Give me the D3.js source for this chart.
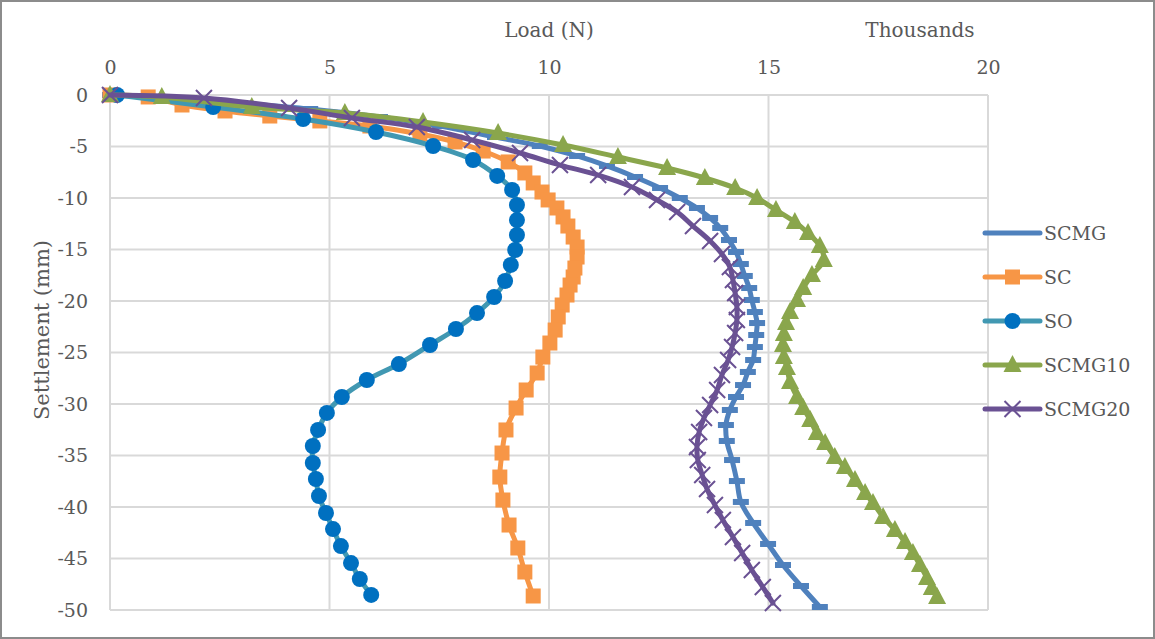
<!DOCTYPE html>
<html>
<head>
<meta charset="utf-8">
<script src="https://cdn.jsdelivr.net/npm/d3@7"></script>
<style>
  body { margin: 0; background: #fff; }
  text { font-family: "DejaVu Serif", "Liberation Serif", serif; fill: #595959; }
</style>
</head>
<body>
<div id="chart"></div>
<script>
const width = 1155;
const height = 639;

// load in thousands of N, settlement in mm
const xTicks = [0, 5, 10, 15, 20];
const yTicks = [0, -5, -10, -15, -20, -25, -30, -35, -40, -45, -50];
const seriesNames = ["SCMG", "SC", "SO", "SCMG10", "SCMG20"];

const scmgLoad = [0, 1.37, 2.96, 4.56, 6.15, 7.52, 8.77, 9.79, 10.64, 11.32, 11.96, 12.53, 12.98, 13.37, 13.67, 13.9, 14.1, 14.26, 14.37, 14.46, 14.56, 14.62, 14.69, 14.74, 14.72, 14.69, 14.65, 14.53, 14.42, 14.26, 14.12, 14.03, 14.05, 14.17, 14.28, 14.37, 14.65, 14.99, 15.33, 15.74, 16.17];
const scmgSettle = [0, -0.29, -0.78, -1.36, -2.14, -3.01, -4.08, -4.95, -5.92, -6.89, -7.96, -9.03, -10.0, -10.97, -11.94, -12.91, -14.08, -15.24, -16.41, -17.57, -18.74, -19.9, -21.07, -22.14, -23.3, -24.47, -25.73, -26.89, -28.16, -29.32, -30.58, -32.04, -33.59, -35.44, -37.48, -39.51, -41.55, -43.59, -45.63, -47.67, -49.71];

const scLoad = [0, 0.87, 1.64, 2.62, 3.64, 4.78, 5.92, 7.06, 7.86, 8.5, 9.07, 9.45, 9.64, 9.84, 9.98, 10.18, 10.32, 10.43, 10.55, 10.64, 10.64, 10.59, 10.55, 10.48, 10.41, 10.3, 10.21, 10.14, 10.02, 9.86, 9.73, 9.48, 9.25, 9.02, 8.93, 8.88, 8.95, 9.09, 9.29, 9.45, 9.64];
const scSettle = [0, -0.19, -0.97, -1.55, -2.04, -2.52, -3.01, -3.79, -4.56, -5.44, -6.5, -7.57, -8.54, -9.42, -10.19, -10.97, -11.84, -12.72, -13.79, -14.76, -15.73, -16.8, -17.67, -18.45, -19.42, -20.39, -21.55, -22.82, -24.08, -25.44, -26.99, -28.64, -30.39, -32.52, -34.76, -37.09, -39.32, -41.75, -43.98, -46.31, -48.64];

const soLoad = [0.16, 2.35, 4.4, 6.06, 7.36, 8.27, 8.82, 9.16, 9.27, 9.27, 9.27, 9.23, 9.13, 9.0, 8.75, 8.36, 7.88, 7.29, 6.58, 5.85, 5.28, 4.94, 4.74, 4.62, 4.62, 4.69, 4.76, 4.92, 5.08, 5.26, 5.49, 5.69, 5.95];
const soSettle = [0, -1.17, -2.33, -3.59, -4.95, -6.31, -7.86, -9.22, -10.68, -12.14, -13.59, -15.05, -16.5, -18.06, -19.61, -21.17, -22.72, -24.27, -26.12, -27.67, -29.32, -30.87, -32.52, -34.08, -35.73, -37.28, -38.93, -40.58, -42.14, -43.79, -45.44, -46.99, -48.54];

const scmg10Load = [0, 1.18, 3.23, 5.35, 7.13, 8.84, 10.32, 11.57, 12.69, 13.55, 14.24, 14.74, 15.17, 15.6, 15.9, 16.17, 16.26, 15.99, 15.79, 15.65, 15.49, 15.4, 15.35, 15.33, 15.35, 15.42, 15.49, 15.65, 15.79, 15.95, 16.1, 16.29, 16.51, 16.74, 16.97, 17.2, 17.38, 17.61, 17.88, 18.11, 18.29, 18.45, 18.61, 18.72, 18.84];
const scmg10Settle = [0, -0.2, -1.17, -1.75, -2.62, -3.69, -4.85, -6.02, -7.09, -8.06, -9.03, -10.0, -11.17, -12.33, -13.4, -14.66, -16.02, -17.48, -18.74, -19.9, -21.07, -22.14, -23.2, -24.27, -25.44, -26.5, -27.86, -29.32, -30.39, -31.55, -32.82, -33.79, -35.15, -36.12, -37.38, -38.64, -39.61, -40.97, -42.23, -43.4, -44.47, -45.63, -46.89, -47.86, -48.74];

const scmg20Load = [0, 2.14, 4.08, 5.51, 6.99, 8.25, 9.34, 10.25, 11.12, 11.89, 12.46, 12.92, 13.28, 13.67, 13.94, 14.12, 14.19, 14.24, 14.28, 14.28, 14.24, 14.17, 14.08, 13.94, 13.83, 13.67, 13.53, 13.42, 13.37, 13.39, 13.49, 13.6, 13.78, 13.96, 14.19, 14.4, 14.62, 14.87, 15.1];
const scmg20Settle = [0, -0.29, -1.26, -2.23, -3.11, -4.37, -5.63, -6.8, -7.77, -8.93, -10.19, -11.36, -12.72, -14.17, -15.44, -16.7, -17.96, -19.22, -20.58, -21.84, -23.11, -24.47, -25.73, -27.18, -28.64, -30.1, -31.36, -32.72, -34.17, -35.44, -36.89, -38.25, -39.81, -41.26, -42.91, -44.47, -46.12, -47.77, -49.32];

const margin = { left: 110, right: 167, top: 95, bottom: 29 };

const x = d3.scaleLinear().domain([0, 20]).range([margin.left, width - margin.right]);
const y = d3.scaleLinear().domain([-50, 0]).range([height - margin.bottom, margin.top]);

const svg = d3.select("#chart").append("svg")
  .attr("width", width)
  .attr("height", height);

// outer frame
svg.append("rect")
  .attr("x", 1).attr("y", 1)
  .attr("width", width - 2).attr("height", height - 2)
  .attr("fill", "#fff")
  .attr("stroke", "#8c8c8c")
  .attr("stroke-width", 2);

// grid
svg.append("g").selectAll("line")
  .data(yTicks)
  .join("line")
  .attr("x1", x(0)).attr("x2", x(20))
  .attr("y1", d => y(d)).attr("y2", d => y(d))
  .attr("stroke", "#d9d9d9").attr("stroke-width", 2);

svg.append("g").selectAll("line")
  .data(xTicks)
  .join("line")
  .attr("x1", d => x(d)).attr("x2", d => x(d))
  .attr("y1", y(0)).attr("y2", y(-50))
  .attr("stroke", "#d9d9d9").attr("stroke-width", 2);

// axes (labels only)
const xAxis = svg.append("g")
  .attr("transform", `translate(0,${y(0)})`)
  .call(d3.axisTop(x).tickValues(xTicks).tickSize(0).tickPadding(21).tickFormat(d3.format("d")));
const yAxis = svg.append("g")
  .attr("transform", `translate(${x(0)},0)`)
  .call(d3.axisLeft(y).tickValues(yTicks).tickSize(0).tickPadding(22).tickFormat(d => d === 0 ? "0" : "-" + Math.abs(d)));
[xAxis, yAxis].forEach(a => {
  a.select(".domain").remove();
  a.selectAll("text").style("font-size", "19px").attr("fill", "#595959")
    .style("font-family", "'DejaVu Serif', serif");
});

svg.append("text")
  .attr("x", 549).attr("y", 37)
  .attr("text-anchor", "middle")
  .style("font-size", "20px")
  .text("Load (N)");

svg.append("text")
  .attr("x", 920).attr("y", 37)
  .attr("text-anchor", "middle")
  .style("font-size", "20px")
  .text("Thousands");

svg.append("text")
  .attr("transform", "translate(49,330) rotate(-90)")
  .attr("text-anchor", "middle")
  .style("font-size", "21px")
  .text("Settlement (mm)");

const series = [
  { name: seriesNames[0], load: scmgLoad, settle: scmgSettle, line: "#4f81bd", mark: "#4f81bd", shape: "dash" },
  { name: seriesNames[1], load: scLoad, settle: scSettle, line: "#f79646", mark: "#f79646", shape: "square" },
  { name: seriesNames[2], load: soLoad, settle: soSettle, line: "#4198b2", mark: "#0070c0", shape: "circle" },
  { name: seriesNames[3], load: scmg10Load, settle: scmg10Settle, line: "#8aa64c", mark: "#8aa64c", shape: "triangle" },
  { name: seriesNames[4], load: scmg20Load, settle: scmg20Settle, line: "#6a5193", mark: "#6a5193", shape: "cross" }
];

const line = d3.line()
  .x(d => x(d[0]))
  .y(d => y(d[1]))
  .curve(d3.curveCatmullRom.alpha(0.5));

function drawMarker(g, shape, color) {
  if (shape === "dash") {
    g.append("rect").attr("x", -8).attr("y", -3).attr("width", 16).attr("height", 6).attr("fill", color);
  } else if (shape === "square") {
    g.append("rect").attr("x", -7.5).attr("y", -7.5).attr("width", 15).attr("height", 15).attr("fill", color);
  } else if (shape === "circle") {
    g.append("circle").attr("r", 8).attr("fill", color);
  } else if (shape === "triangle") {
    g.append("path").attr("d", "M0,-10L9,7L-9,7Z").attr("fill", color);
  } else if (shape === "cross") {
    g.append("path").attr("d", "M-8,-8L8,8M-8,8L8,-8").attr("stroke", color).attr("stroke-width", 2).attr("fill", "none");
  }
}

const plot = svg.append("g");
series.forEach(s => {
  const pts = s.load.map((v, i) => [v, s.settle[i]]);
  const g = plot.append("g");
  g.append("path")
    .datum(pts)
    .attr("d", line)
    .attr("fill", "none")
    .attr("stroke", s.line)
    .attr("stroke-width", 5)
    .attr("stroke-linejoin", "round")
    .attr("stroke-linecap", "round");
  pts.forEach(p => {
    const m = g.append("g").attr("transform", `translate(${x(p[0])},${y(p[1])})`);
    drawMarker(m, s.shape, s.mark);
  });
});

// legend
const legend = svg.append("g").attr("transform", "translate(985,233)");
series.forEach((s, i) => {
  const row = legend.append("g").attr("transform", `translate(0,${i * 44})`);
  row.append("line")
    .attr("x1", 0).attr("x2", 55)
    .attr("stroke", s.line).attr("stroke-width", 5).attr("stroke-linecap", "round");
  if (s.shape !== "dash") drawMarker(row.append("g").attr("transform", "translate(27.5,0)"), s.shape, s.mark);
  row.append("text")
    .attr("x", 59).attr("y", 7)
    .style("font-size", "19px")
    .text(s.name);
});
</script>
</body>
</html>
